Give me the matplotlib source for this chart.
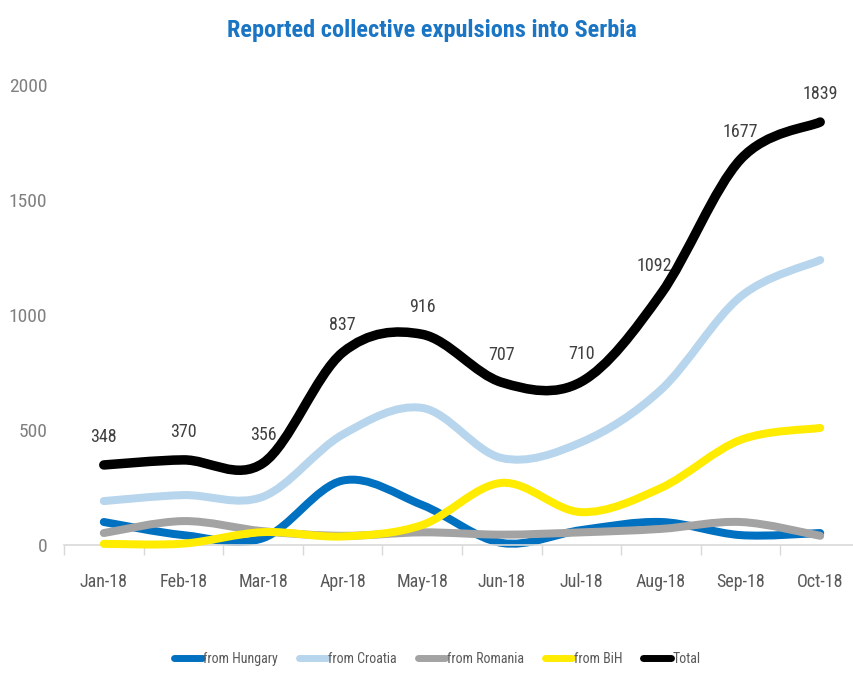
import numpy as np
import matplotlib
matplotlib.use("Agg")
import matplotlib.pyplot as plt
from matplotlib.path import Path
from matplotlib.patches import PathPatch
from matplotlib.lines import Line2D
from matplotlib import font_manager

months = ["Jan-18", "Feb-18", "Mar-18", "Apr-18", "May-18",
          "Jun-18", "Jul-18", "Aug-18", "Sep-18", "Oct-18"]
hungary = [100, 43, 30, 280, 174, 9, 65, 100, 43, 52]
croatia = [191, 217, 210, 480, 596, 378, 447, 675, 1080, 1239]
romania = [52, 104, 60, 40, 55, 45, 55, 70, 100, 40]
bih = [5, 6, 56, 37, 87, 270, 143, 248, 457, 509]
total = [348, 370, 356, 837, 916, 707, 710, 1092, 1677, 1839]

# pick a narrow font if there is one
names = set(f.name for f in font_manager.fontManager.ttflist)
fam = "DejaVu Sans"
for cand in ["Liberation Sans Narrow", "DejaVu Sans Condensed", "Roboto Condensed", "Open Sans Condensed"]:
    if cand in names:
        fam = cand
        break
plt.rcParams['font.family'] = [fam, 'DejaVu Sans']


def smooth_path(x, y):
    # excel style smoothed line: bezier segments through the points
    x = np.asarray(x, float)
    y = np.asarray(y, float)
    n = len(x)
    verts = [(x[0], y[0])]
    codes = [Path.MOVETO]
    for i in range(n - 1):
        p0 = np.array([x[max(i - 1, 0)], y[max(i - 1, 0)]])
        p1 = np.array([x[i], y[i]])
        p2 = np.array([x[i + 1], y[i + 1]])
        p3 = np.array([x[min(i + 2, n - 1)], y[min(i + 2, n - 1)]])
        c1 = p1 + (p2 - p0) / 6.0
        c2 = p2 - (p3 - p1) / 6.0
        verts += [tuple(c1), tuple(c2), tuple(p2)]
        codes += [Path.CURVE4] * 3
    return Path(verts, codes)


fig = plt.figure(figsize=(8.54, 6.83), dpi=100)
ax = fig.add_axes([64 / 854, 138 / 683, 796 / 854, 460 / 683])

xs = np.arange(len(months))
series = [
    ("from Hungary", hungary, "#0070c0", 8),
    ("from Croatia", croatia, "#b7d5ec", 8),
    ("from Romania", romania, "#a3a3a3", 8),
    ("from BiH", bih, "#ffec00", 8),
    ("Total", total, "#000000", 9.5),
]
handles = []
for i, (name, vals, col, lw) in enumerate(series):
    patch = PathPatch(smooth_path(xs, vals), facecolor="none", edgecolor=col,
                      lw=lw * 0.72, capstyle="round", joinstyle="round",
                      zorder=2 + i, clip_on=False)
    ax.add_patch(patch)
    handles.append(Line2D([], [], color=col, lw=5, solid_capstyle="round"))

for xi, v in zip(xs, total):
    dx = -5 if v == 1092 else 0
    ax.annotate(str(v), (xi, v), xytext=(dx, 20), textcoords="offset points",
                ha="center", va="center", fontsize=13, color="#404040")

ax.set_xlim(-0.5, 9.5)
ax.set_ylim(0, 2000)
ax.set_yticks([0, 500, 1000, 1500, 2000])
ax.set_xticks(xs)
ax.set_xticklabels(months)
ax.set_xticks(np.arange(-0.5, 10, 1), minor=True)
ax.tick_params(axis="y", length=0, pad=12, labelsize=14, labelcolor="#808080")
ax.tick_params(axis="x", which="major", length=0, pad=20, labelsize=13, labelcolor="#595959")
ax.tick_params(axis="x", which="minor", length=7, color="#d9d9d9", width=1)
for s in ["top", "right", "left"]:
    ax.spines[s].set_visible(False)
ax.spines["bottom"].set_color("#d9d9d9")
ax.spines["bottom"].set_linewidth(1.2)

fig.text(0.506, 0.955, "Reported collective expulsions into Serbia", ha="center",
         va="center", fontsize=17.5, fontweight="bold", color="#1a75c4")

fig.legend(handles, [s[0] for s in series], loc="center", bbox_to_anchor=(0.512, 0.035),
           ncol=5, frameon=False, fontsize=10, labelcolor="#595959",
           handlelength=2.0, handletextpad=0.1, columnspacing=1.5)

fig.savefig("out.png", dpi=100)
